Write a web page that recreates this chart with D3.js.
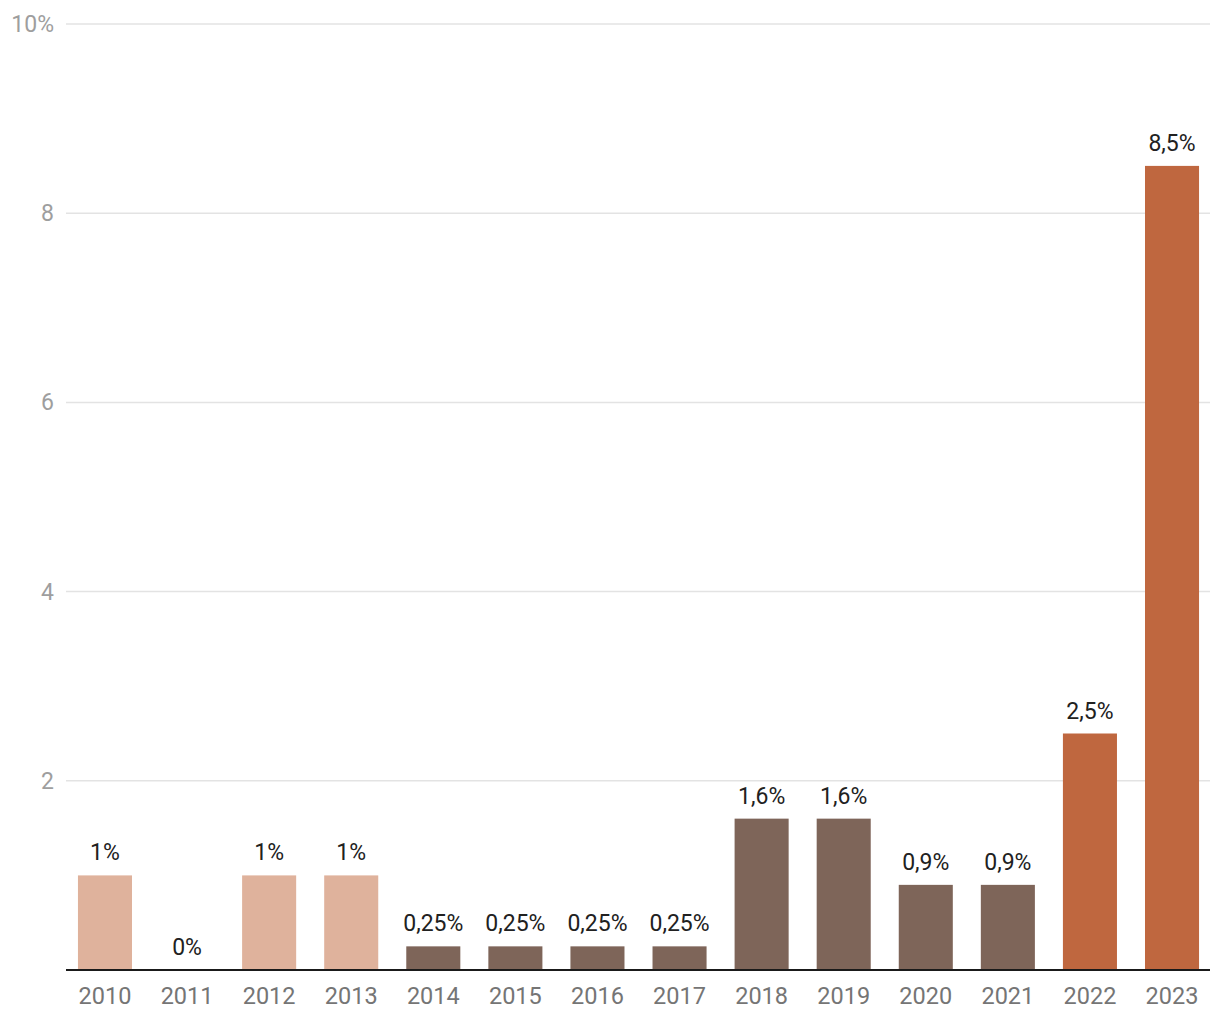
<!DOCTYPE html>
<html lang="en">
  <head>
    <meta charset="UTF-8" />
    <title>Chart</title>
    <style>
      body {
        margin: 0;
        background: #fff;
      }
      text {
        font-family: Roboto, sans-serif;
      }
    </style>
  </head>
  <body>
    <svg id="chart"></svg>
    <script src="https://cdnjs.cloudflare.com/ajax/libs/d3/7.4.4/d3.min.js"></script>
    <script>
      const years = ["2010", "2011", "2012", "2013", "2014", "2015", "2016", "2017", "2018", "2019", "2020", "2021", "2022", "2023"];
      const values = [1, 0, 1, 1, 0.25, 0.25, 0.25, 0.25, 1.6, 1.6, 0.9, 0.9, 2.5, 8.5];
      const groups = ["a", "a", "a", "a", "b", "b", "b", "b", "b", "b", "b", "b", "c", "c"];
      const yTicks = [0, 2, 4, 6, 8, 10];

      const W = 1220, H = 1020;
      const chart = d3.select("#chart").attr("width", W).attr("height", H);

      const x = d3.scaleBand().domain(years).range([64, 1213]).paddingInner(0.3415).paddingOuter(0.17);
      const y = d3.scaleLinear().domain([0, 10]).range([970, 24]);
      const color = d3.scaleOrdinal().domain(["a", "b", "c"]).range(["#dfb29c", "#7e6559", "#bf673f"]);

      const loc = d3.formatLocale({ decimal: ",", thousands: " ", grouping: [3], currency: ["", ""] });
      const fmt = loc.format("~");

      // grid
      chart.append("g")
        .selectAll("line")
        .data(yTicks.filter((d) => d > 0))
        .join("line")
        .attr("x1", 66)
        .attr("x2", 1210)
        .attr("y1", (d) => y(d))
        .attr("y2", (d) => y(d))
        .attr("stroke", "#e3e3e3")
        .attr("stroke-width", 1.5);

      chart.append("g")
        .selectAll("text")
        .data(yTicks.filter((d) => d > 0))
        .join("text")
        .attr("x", 54)
        .attr("y", (d) => y(d))
        .attr("dy", "0.35em")
        .attr("text-anchor", "end")
        .attr("fill", "#9e9e9e")
        .attr("font-size", 23)
        .text((d) => (d === 10 ? d + "%" : d));

      // bars
      const bars = chart.append("g").selectAll("g").data(values).join("g");

      bars.append("rect")
        .attr("x", (d, i) => x(years[i]))
        .attr("width", x.bandwidth())
        .attr("y", (d) => y(d))
        .attr("height", (d) => y(0) - y(d))
        .attr("fill", (d, i) => color(groups[i]));

      bars.append("text")
        .attr("x", (d, i) => x(years[i]) + x.bandwidth() / 2)
        .attr("y", (d) => y(d) - 15)
        .attr("text-anchor", "middle")
        .attr("fill", "#212121")
        .attr("font-size", 23)
        .text((d) => fmt(d) + "%");

      // x axis
      chart.append("line")
        .attr("x1", 66)
        .attr("x2", 1210)
        .attr("y1", y(0))
        .attr("y2", y(0))
        .attr("stroke", "#1a1a1a")
        .attr("stroke-width", 2);

      chart.append("g")
        .selectAll("text")
        .data(years)
        .join("text")
        .attr("x", (d) => x(d) + x.bandwidth() / 2)
        .attr("y", 1004)
        .attr("text-anchor", "middle")
        .attr("fill", "#757575")
        .attr("font-size", 23.5)
        .text((d) => d);
    </script>
  </body>
</html>
